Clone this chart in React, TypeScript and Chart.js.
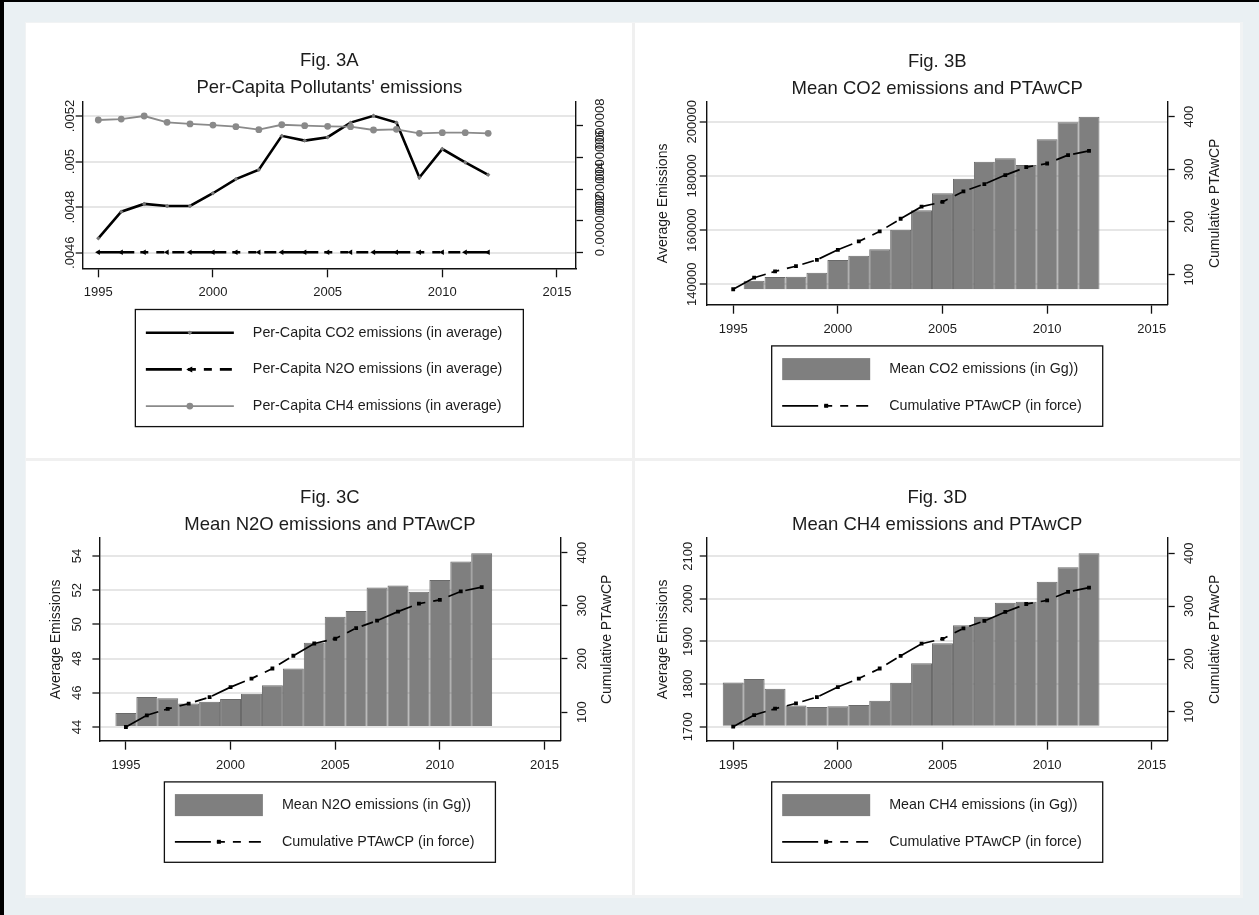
import React, { useEffect, useRef } from 'react';
import { Chart, registerables } from 'chart.js';

Chart.register(...registerables);

const FONT = '"Liberation Sans", Arial, Helvetica, sans-serif';
const TEXT = '#1c1c1c';

// ---------- shared axis data ----------
const years = [1995, 1996, 1997, 1998, 1999, 2000, 2001, 2002, 2003, 2004, 2005, 2006, 2007, 2008, 2009, 2010, 2011, 2012];
const xTicks = [1995, 2000, 2005, 2010, 2015];
const xTickLabels = ['1995', '2000', '2005', '2010', '2015'];

// ---------- Fig. 3A ----------
const perCapitaCO2 = [0.004663, 0.00478, 0.004814, 0.004805, 0.004805, 0.004861, 0.004923, 0.004964, 0.005113, 0.005092, 0.005107, 0.005171, 0.005201, 0.005171, 0.00493, 0.005055, 0.004996, 0.004942];
const perCapitaN2O = [2.9e-9, 3.0e-9, 3.0e-9, 2.9e-9, 2.9e-9, 2.9e-9, 2.8e-9, 2.8e-9, 2.8e-9, 2.8e-9, 2.8e-9, 2.8e-9, 2.8e-9, 2.7e-9, 2.7e-9, 2.7e-9, 2.7e-9, 2.7e-9];
const perCapitaCH4 = [8.36e-7, 8.42e-7, 8.61e-7, 8.21e-7, 8.11e-7, 8.04e-7, 7.94e-7, 7.75e-7, 8.06e-7, 8.0e-7, 7.96e-7, 7.94e-7, 7.73e-7, 7.77e-7, 7.52e-7, 7.56e-7, 7.56e-7, 7.52e-7];
const figALeftTicks = [0.0046, 0.0048, 0.005, 0.0052];
const figALeftLabels = ['.0046', '.0048', '.005', '.0052'];
const figARightTicks = [0, 2e-7, 4e-7, 6e-7, 8e-7];
const figARightLabels = ['0', '.0000002', '.0000004', '.0000006', '.0000008'];

// ---------- Fig. 3B - 3D ----------
const meanCO2 = [138150, 141330, 142700, 142800, 144300, 148970, 150560, 152900, 160150, 167300, 173580, 178900, 185240, 186500, 184020, 193500, 199780, 201840];
const meanN2O = [44.82, 45.75, 45.68, 45.38, 45.47, 45.64, 45.95, 46.44, 47.42, 48.93, 50.45, 50.78, 52.15, 52.28, 51.91, 52.6, 53.67, 54.16];
const meanCH4 = [1804, 1812, 1789, 1750, 1746, 1748, 1751, 1761, 1803, 1849, 1896, 1938, 1958, 1991, 1993, 2040, 2074, 2107];
const cumulativePTAwCP = [72, 94, 106, 116, 128, 147, 163, 182, 206, 229, 238, 258, 272, 289, 304, 311, 327, 335];

const figBLeftTicks = [140000, 160000, 180000, 200000];
const figBLeftLabels = ['140000', '160000', '180000', '200000'];
const figCLeftTicks = [44, 46, 48, 50, 52, 54];
const figCLeftLabels = ['44', '46', '48', '50', '52', '54'];
const figDLeftTicks = [1700, 1800, 1900, 2000, 2100];
const figDLeftLabels = ['1700', '1800', '1900', '2000', '2100'];
const ptaRightTicks = [100, 200, 300, 400];
const ptaRightLabels = ['100', '200', '300', '400'];

// bar bases (Gg)
const barBaseCO2 = 138150;
const barBaseN2O = 44;
const barBaseCH4 = 1700;

// axis ranges
const figARange = { x: [1994.32, 2015.83], y: [0.0045315, 0.0052628], y1: [-9.83e-8, 9.512e-7] };
const figBRange = { x: [1993.734, 2015.76], y: [132467, 207264], y1: [42.7, 427.9] };
const figCRange = { x: [1993.734, 2015.76], y: [43.2, 55.05], y1: [46.2, 427.5] };
const figDRange = { x: [1993.734, 2015.76], y: [1667.1, 2142.9], y1: [45.5, 428.9] };

const PTA_DASH = [36, 6, 8, 8, 8, 8, 12, 6];
const N2O_DASH = [36, 6, 8, 8, 8, 8, 12, 6];

const pts = (ys: number[]) => years.map((x, i) => ({ x, y: ys[i] }));

type Marker = 'rect' | 'circle' | 'triLeft' | 'diamond' | 'none';
type LegendItem = {
  label: string;
  kind: 'bar' | 'line';
  color: string;
  width?: number;
  dash?: number[];
  marker?: Marker;
  markerColor?: string;
  markerSize?: number;
};
type PanelSpec = {
  titles: [string, string];
  leftTicks: number[];
  leftLabels: string[];
  leftOffset: number;
  leftTitle?: string;
  rightTicks: number[];
  rightLabels: string[];
  rightOffset: number;
  rightTitle?: string;
  legend: LegendItem[];
};

function drawMarker(ctx: CanvasRenderingContext2D, m: Marker | undefined, x: number, y: number, s: number, color: string) {
  if (!m || m === 'none') return;
  ctx.save();
  ctx.fillStyle = color;
  ctx.beginPath();
  if (m === 'rect') {
    ctx.rect(x - s, y - s, 2 * s, 2 * s);
  } else if (m === 'circle') {
    ctx.arc(x, y, s, 0, Math.PI * 2);
  } else if (m === 'triLeft') {
    ctx.moveTo(x - s * 1.2, y);
    ctx.lineTo(x + s * 0.8, y - s);
    ctx.lineTo(x + s * 0.8, y + s);
    ctx.closePath();
  } else if (m === 'diamond') {
    ctx.moveTo(x, y - s);
    ctx.lineTo(x + s, y);
    ctx.lineTo(x, y + s);
    ctx.lineTo(x - s, y);
    ctx.closePath();
  }
  ctx.fill();
  ctx.restore();
}

function overlayPlugin(spec: PanelSpec) {
  return {
    id: 'stataOverlay',
    afterDraw(chart: any) {
      const ctx = chart.ctx as CanvasRenderingContext2D;
      const ca = chart.chartArea;
      const cx = (ca.left + ca.right) / 2;
      const cy = (ca.top + ca.bottom) / 2;
      const vtext = (t: string, x: number, y: number) => {
        ctx.save();
        ctx.translate(x, y);
        ctx.rotate(-Math.PI / 2);
        ctx.textAlign = 'center';
        ctx.textBaseline = 'middle';
        ctx.fillText(t, 0, 0);
        ctx.restore();
      };
      ctx.save();
      ctx.fillStyle = TEXT;
      // titles
      ctx.textAlign = 'center';
      ctx.textBaseline = 'alphabetic';
      ctx.font = `18.5px ${FONT}`;
      ctx.fillText(spec.titles[0], cx, ca.top - 35.5);
      ctx.fillText(spec.titles[1], cx, ca.top - 8.5);
      // x tick labels
      ctx.font = `13px ${FONT}`;
      const xs = chart.scales.x;
      xTicks.forEach((v, i) => ctx.fillText(xTickLabels[i], xs.getPixelForValue(v), ca.bottom + 28));
      // y tick labels
      const ys = chart.scales.y;
      spec.leftTicks.forEach((v, i) => vtext(spec.leftLabels[i], ca.left - spec.leftOffset, ys.getPixelForValue(v)));
      const y1 = chart.scales.y1;
      spec.rightTicks.forEach((v, i) => vtext(spec.rightLabels[i], ca.right + spec.rightOffset, y1.getPixelForValue(v)));
      // axis titles
      ctx.font = `14px ${FONT}`;
      if (spec.leftTitle) vtext(spec.leftTitle, ca.left - 43.5, cy);
      if (spec.rightTitle) vtext(spec.rightTitle, ca.right + 47, cy);
      // legend
      ctx.font = `14.3px ${FONT}`;
      const tw = Math.max(...spec.legend.map((it) => ctx.measureText(it.label).width));
      const padL = 10.5, sw = 88, gap = 19, padR = 21;
      const bw = padL + sw + gap + tw + padR;
      const bx = cx - bw / 2;
      const by = ca.bottom + 41.2;
      const rowH = 36.7;
      const bh = spec.legend.length * rowH + 7;
      ctx.fillStyle = '#ffffff';
      ctx.fillRect(bx, by, bw, bh);
      ctx.strokeStyle = '#111';
      ctx.lineWidth = 1.3;
      ctx.strokeRect(bx, by, bw, bh);
      spec.legend.forEach((it, i) => {
        const ry = by + 23.2 + i * rowH;
        const sx = bx + padL;
        if (it.kind === 'bar') {
          ctx.fillStyle = it.color;
          ctx.fillRect(sx, ry - 11, sw, 22);
        } else {
          ctx.save();
          ctx.strokeStyle = it.color;
          ctx.lineWidth = it.width || 1.5;
          ctx.setLineDash(it.dash || []);
          ctx.beginPath();
          ctx.moveTo(sx, ry);
          ctx.lineTo(sx + sw, ry);
          ctx.stroke();
          ctx.restore();
          drawMarker(ctx, it.marker, sx + 44, ry, it.markerSize || 2.5, it.markerColor || it.color);
        }
        ctx.fillStyle = TEXT;
        ctx.textAlign = 'left';
        ctx.textBaseline = 'middle';
        ctx.fillText(it.label, sx + sw + gap, ry);
      });
      ctx.restore();
    },
  };
}

type Geo = { leftWidth: number; rightWidth: number; topPad: number; xHeight: number };

function buildScales(range: { x: number[]; y: number[]; y1: number[] }, leftTicks: number[], rightTicks: number[], geo: Geo) {
  const border = { display: true, color: '#111', width: 1.4 };
  return {
    x: {
      type: 'linear',
      position: 'bottom',
      min: range.x[0],
      max: range.x[1],
      offset: false,
      afterBuildTicks: (s: any) => { s.ticks = xTicks.map((v) => ({ value: v })); },
      afterFit: (s: any) => { s.height = geo.xHeight; },
      ticks: { display: false },
      grid: { offset: false, drawOnChartArea: false, drawTicks: true, tickLength: 9, tickColor: '#111', tickWidth: 1.3 },
      border,
    },
    y: {
      type: 'linear',
      position: 'left',
      min: range.y[0],
      max: range.y[1],
      afterBuildTicks: (s: any) => { s.ticks = leftTicks.map((v) => ({ value: v })); },
      afterFit: (s: any) => { s.width = geo.leftWidth; },
      ticks: { display: false },
      grid: { drawOnChartArea: true, color: '#e6e6e6', lineWidth: 2, drawTicks: true, tickLength: 7, tickColor: '#111', tickWidth: 1.3 },
      border,
    },
    y1: {
      type: 'linear',
      position: 'right',
      min: range.y1[0],
      max: range.y1[1],
      afterBuildTicks: (s: any) => { s.ticks = rightTicks.map((v) => ({ value: v })); },
      afterFit: (s: any) => { s.width = geo.rightWidth; },
      ticks: { display: false },
      grid: { drawOnChartArea: false, drawTicks: true, tickLength: 7, tickColor: '#111', tickWidth: 1.3 },
      border,
    },
  };
}

const baseOptions = (geo: Geo) => ({
  responsive: false,
  maintainAspectRatio: false,
  animation: false,
  events: [],
  layout: { padding: { top: geo.topPad, left: 0, right: 0, bottom: 0 } },
  plugins: { legend: { display: false }, tooltip: { enabled: false }, title: { display: false } },
});

const geoA: Geo = { leftWidth: 56.7, rightWidth: 57, topPad: 78.7, xHeight: 190.7 };
const geoB: Geo = { leftWidth: 73.7, rightWidth: 72.3, topPad: 79, xHeight: 154.3 };
const geoC: Geo = { leftWidth: 73.4, rightWidth: 72.6, topPad: 79, xHeight: 154.3 };
const geoD: Geo = { leftWidth: 73.7, rightWidth: 72.3, topPad: 79, xHeight: 154.3 };

function configA(): any {
  const spec: PanelSpec = {
    titles: ['Fig. 3A', "Per-Capita Pollutants' emissions"],
    leftTicks: figALeftTicks,
    leftLabels: figALeftLabels,
    leftOffset: 12.5,
    rightTicks: figARightTicks,
    rightLabels: figARightLabels,
    rightOffset: 24,
    legend: [
      { label: 'Per-Capita CO2 emissions (in average)', kind: 'line', color: '#000', width: 2.6, marker: 'diamond', markerColor: '#777', markerSize: 2.2 },
      { label: 'Per-Capita N2O emissions (in average)', kind: 'line', color: '#000', width: 2.6, dash: N2O_DASH, marker: 'triLeft', markerColor: '#000', markerSize: 3 },
      { label: 'Per-Capita CH4 emissions (in average)', kind: 'line', color: '#8a8a8a', width: 1.8, marker: 'circle', markerColor: '#8a8a8a', markerSize: 3.4 },
    ],
  };
  return {
    type: 'line',
    data: {
      datasets: [
        { label: 'Per-Capita CH4 emissions (in average)', data: pts(perCapitaCH4), yAxisID: 'y1', borderColor: '#8a8a8a', borderWidth: 1.8, pointStyle: 'circle', pointRadius: 3.4, pointBackgroundColor: '#8a8a8a', pointBorderColor: '#8a8a8a', pointBorderWidth: 0, tension: 0, fill: false },
        { label: 'Per-Capita CO2 emissions (in average)', data: pts(perCapitaCO2), yAxisID: 'y', borderColor: '#000', borderWidth: 2.6, pointStyle: 'rectRot', pointRadius: 2.2, pointBackgroundColor: '#777', pointBorderColor: '#777', pointBorderWidth: 0, tension: 0, fill: false },
        { label: 'Per-Capita N2O emissions (in average)', data: pts(perCapitaN2O), yAxisID: 'y1', borderColor: '#000', borderWidth: 2.6, borderDash: N2O_DASH, pointStyle: 'triangle', pointRotation: -90, pointRadius: 3.2, pointBackgroundColor: '#000', pointBorderColor: '#000', pointBorderWidth: 0, tension: 0, fill: false },
      ],
    },
    options: { ...baseOptions(geoA), scales: buildScales(figARange, figALeftTicks, figARightTicks, geoA) },
    plugins: [overlayPlugin(spec)],
  };
}

function configBar(
  titles: [string, string], barLabel: string, barValues: number[], base: number,
  range: { x: number[]; y: number[]; y1: number[] }, leftTicks: number[], leftLabels: string[], leftOffset: number, geo: Geo
): any {
  const spec: PanelSpec = {
    titles,
    leftTicks,
    leftLabels,
    leftOffset,
    leftTitle: 'Average Emissions',
    rightTicks: ptaRightTicks,
    rightLabels: ptaRightLabels,
    rightOffset: 22,
    rightTitle: 'Cumulative PTAwCP',
    legend: [
      { label: barLabel, kind: 'bar', color: '#7f7f7f' },
      { label: 'Cumulative PTAwCP (in force)', kind: 'line', color: '#000', width: 1.7, dash: PTA_DASH, marker: 'rect', markerColor: '#000', markerSize: 2 },
    ],
  };
  return {
    type: 'bar',
    data: {
      datasets: [
        { type: 'line', label: 'Cumulative PTAwCP (in force)', data: pts(cumulativePTAwCP), yAxisID: 'y1', order: 0, borderColor: '#000', borderWidth: 1.7, borderDash: PTA_DASH, pointStyle: 'rect', pointRadius: 2.7, pointBackgroundColor: '#000', pointBorderColor: '#000', pointBorderWidth: 0, tension: 0, fill: false },
        { type: 'bar', label: barLabel, data: pts(barValues), yAxisID: 'y', order: 1, base, backgroundColor: '#7f7f7f', borderColor: '#6a6a6a', borderWidth: 1, inflateAmount: 0, barPercentage: 1, categoryPercentage: 1 },
      ],
    },
    options: { ...baseOptions(geo), scales: buildScales(range, leftTicks, ptaRightTicks, geo) },
    plugins: [overlayPlugin(spec)],
  };
}

const PANEL_W = 607;
const PANEL_H = 436;

function Panel({ left, top, build }: { left: number; top: number; build: () => any }) {
  const ref = useRef<HTMLCanvasElement>(null);
  useEffect(() => {
    const chart = new Chart(ref.current as HTMLCanvasElement, build());
    return () => chart.destroy();
  }, []);
  return (
    <canvas
      ref={ref}
      width={PANEL_W}
      height={PANEL_H}
      style={{ position: 'absolute', left, top, width: PANEL_W, height: PANEL_H }}
    />
  );
}

export default function App() {
  return (
    <div style={{ position: 'fixed', left: 0, top: 0, width: 1259, height: 915, background: '#eaf0f3', overflow: 'hidden' }}>
      <div style={{ position: 'absolute', left: 0, top: 0, width: 1259, height: 1.5, background: '#000' }} />
      <div style={{ position: 'absolute', left: 0, top: 0, width: 4, height: 915, background: '#000' }} />
      <div style={{ position: 'absolute', left: 26, top: 23, width: 1214, height: 872, background: '#ffffff', boxShadow: '1px 1px 0 2px #f1f3f4' }} />
      <div style={{ position: 'absolute', left: 631.5, top: 23, width: 3, height: 872, background: '#f0f0f0' }} />
      <div style={{ position: 'absolute', left: 26, top: 457.5, width: 1214, height: 3, background: '#f0f0f0' }} />
      <Panel left={26} top={23} build={configA} />
      <Panel
        left={633}
        top={23}
        build={() => configBar(['Fig. 3B', 'Mean CO2 emissions and PTAwCP'], 'Mean CO2 emissions (in Gg))', meanCO2, barBaseCO2, figBRange, figBLeftTicks, figBLeftLabels, 14, geoB)}
      />
      <Panel
        left={26}
        top={459}
        build={() => configBar(['Fig. 3C', 'Mean N2O emissions and PTAwCP'], 'Mean N2O emissions (in Gg))', meanN2O, barBaseN2O, figCRange, figCLeftTicks, figCLeftLabels, 22, geoC)}
      />
      <Panel
        left={633}
        top={459}
        build={() => configBar(['Fig. 3D', 'Mean CH4 emissions and PTAwCP'], 'Mean CH4 emissions (in Gg))', meanCH4, barBaseCH4, figDRange, figDLeftTicks, figDLeftLabels, 18, geoD)}
      />
    </div>
  );
}
